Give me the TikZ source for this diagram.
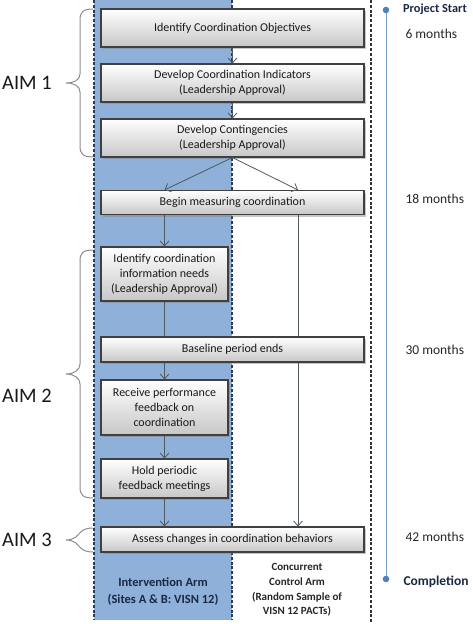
\documentclass[tikz,border=0pt]{standalone}
\usepackage{fontspec}
\setmainfont{Carlito}
\usetikzlibrary{shadows,arrows.meta}
\definecolor{band}{RGB}{143,176,216}
\definecolor{bandedge}{RGB}{40,60,95}
\definecolor{tl}{RGB}{120,160,205}
\definecolor{dot}{RGB}{79,129,189}
\definecolor{arrc}{RGB}{80,88,98}
\definecolor{navy}{RGB}{25,40,70}
\tikzset{
  boxx/.style={draw=black!75, line width=1.1pt, top color=white, bottom color=black!22,
    drop shadow={shadow xshift=2.2pt, shadow yshift=-2.2pt, opacity=0.45},
    align=center, font=\fontsize{12}{15}\selectfont, text=black!90,
    inner sep=0pt},
  wide/.style={boxx, minimum width=263pt},
  narrow/.style={boxx, minimum width=127pt},
  arr/.style={draw=arrc, line width=0.8pt, -{Straight Barb[length=5pt,width=9pt]}},
  lin/.style={draw=arrc, line width=0.8pt},
  brc/.style={draw=black!45, line width=1pt},
  aim/.style={font=\fontsize{20.5}{24}\selectfont, text=black!90},
  tlab/.style={anchor=west, font=\fontsize{13.5}{16}\selectfont, text=black!85},
  dsh/.style={line width=1.1pt, dash pattern=on 3pt off 1.8pt}
}
\begin{document}
\begin{tikzpicture}[x=1pt,y=-1pt]
\useasboundingbox (0,0) rectangle (472,624);
% band
\fill[band] (94,0) rectangle (232,620);
\draw[dsh, draw=bandedge] (94,0) -- (94,620);
\draw[dsh, draw=bandedge] (232,0) -- (232,620);
\draw[dsh, draw=black!80] (371,0) -- (371,624);
% timeline
\coordinate (ts) at (386,10);
\coordinate (te) at (386,579);
\draw[tl, line width=0.9pt] (ts) -- (te);
\fill[dot] (ts) circle (3.3);
\fill[dot] (te) circle (3.3);
\node[tlab, inner sep=0pt, font=\fontsize{12.3}{15}\selectfont\bfseries, text=navy] (pst) at (403,9) {Project Start};
\node[tlab] (m6) at (402,34) {6 months};
\node[tlab] (m18) at (402,199) {18 months};
\node[tlab] (m30) at (402,350) {30 months};
\node[tlab] (m42) at (402,537) {42 months};
\node[tlab, font=\fontsize{13.5}{16}\selectfont\bfseries, text=navy] (cmp) at (400,582) {Completion};
% boxes
\node[wide, minimum height=38pt] (b1) at (232.5,28) {Identify Coordination Objectives};
\node[wide, minimum height=38pt] (b2) at (232.5,83) {Develop Coordination Indicators\\(Leadership Approval)};
\node[wide, minimum height=38pt] (b3) at (232.5,138) {Develop Contingencies\\(Leadership Approval)};
\node[wide, minimum height=24pt] (b4) at (232.5,202.5) {Begin measuring coordination};
\node[narrow, minimum height=54pt] (b5) at (164.5,274) {Identify coordination\\information needs\\(Leadership Approval)};
\node[wide, minimum height=25pt] (b6) at (232.5,349.5) {Baseline period ends};
\node[narrow, minimum height=55pt] (b7) at (164.5,407.5) {Receive performance\\feedback on\\coordination};
\node[narrow, minimum height=39pt] (b8) at (164.5,478.5) {Hold periodic\\feedback meetings};
\node[wide, minimum height=25pt] (b9) at (232.5,539.5) {Assess changes in coordination behaviors};
\coordinate (rc) at (298,0);
% connectors
\draw[arr] (b1) -- (b2);
\draw[arr] (b2) -- (b3);
\draw[arr] (b3.south) -- (b4.north -| b5.north);
\draw[arr] (b3.south) -- (b4.north -| rc);
\draw[arr] (b4.south -| b5.north) -- (b5.north);
\draw[lin] (b5.south) -- (b6.north -| b5.south);
\draw[arr] (b6.south -| b7.north) -- (b7.north);
\draw[arr] (b7) -- (b8);
\draw[arr] (b8.south) -- (b9.north -| b8.south);
\draw[lin] (b4.south -| rc) -- (b6.north -| rc);
\draw[arr] (b6.south -| rc) -- (b9.north -| rc);
% braces
\draw[brc] (93,9) .. controls (83,9) and (80,12) .. (80,20) -- (80,74) .. controls (80,80) and (74,83) .. (66,83)
  .. controls (74,83) and (80,86) .. (80,92) -- (80,146) .. controls (80,154) and (83,157) .. (93,157);
\draw[brc] (93,250) .. controls (83,250) and (80,253) .. (80,261) -- (80,364) .. controls (80,370) and (74,374) .. (66,374)
  .. controls (74,374) and (80,378) .. (80,384) -- (80,487) .. controls (80,495) and (83,498) .. (93,498);
\draw[brc] (93,528) .. controls (82,528) and (80,533) .. (76,537) .. controls (73,539) and (70,540) .. (66,540)
  .. controls (70,540) and (73,541) .. (76,543) .. controls (80,547) and (82,552) .. (93,552);
\node[aim] (a1) at (27,83) {AIM 1};
\node[aim] (a2) at (27,396) {AIM 2};
\node[aim] (a3) at (27,540) {AIM 3};
% arm labels
\node[align=center, font=\fontsize{12.5}{17}\selectfont\bfseries, text=navy] (int) at (163,591.5) {Intervention Arm\\(Sites A \& B: VISN 12)};
\node[align=center, font=\fontsize{11}{14.6}\selectfont\bfseries, text=black!85] (ctl) at (297,590) {Concurrent\\Control Arm\\(Random Sample of\\VISN 12 PACTs)};
\end{tikzpicture}
\end{document}
